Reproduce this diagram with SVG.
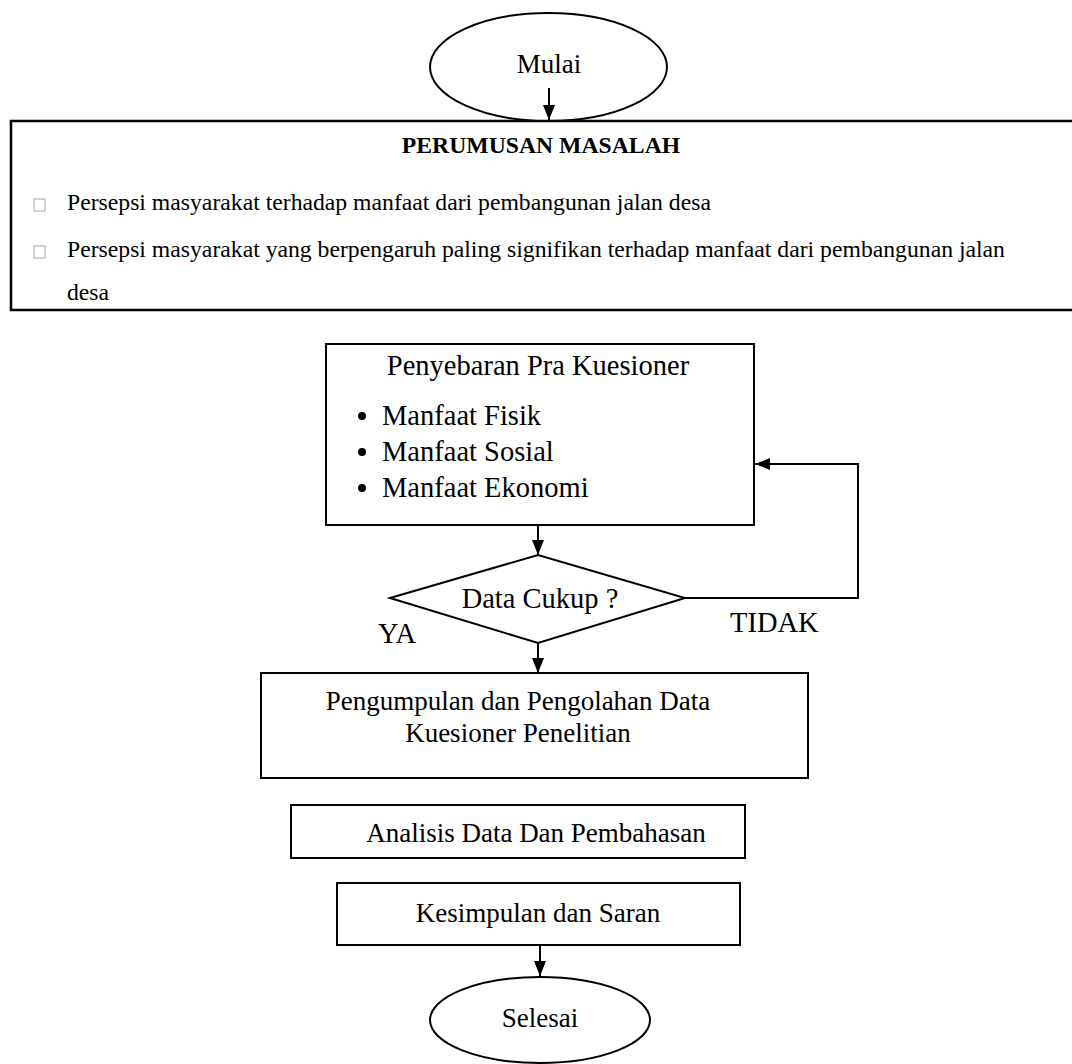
<svg xmlns="http://www.w3.org/2000/svg" width="1072" height="1064" viewBox="0 0 1072 1064">
<style>
.t{font-family:"Liberation Serif","Times New Roman",serif;fill:#000}
.d{font-size:28.5px}
.e{font-size:27px}
.p{font-size:23.7px}
.b{font-weight:bold}
.s{fill:#fff;stroke:#000;stroke-width:2}
.c{fill:none;stroke:#000;stroke-width:2}
.g{fill:none;stroke:#a6a6a6;stroke-width:1}
</style>
<defs>
<marker id="ah" markerUnits="userSpaceOnUse" viewBox="0 0 15 12" markerWidth="15" markerHeight="12" refX="15" refY="6" orient="auto">
<path d="M0,0 L15,6 L0,12 z" fill="#000"/>
</marker>
</defs>
<rect width="1072" height="1064" fill="#fff"/>
<g id="mulai">
<ellipse class="s" cx="548.5" cy="67" rx="118.5" ry="54"/>
<text class="t e" x="549" y="73" text-anchor="middle">Mulai</text>
</g>
<g id="perumusan">
<rect x="11" y="121" width="1070" height="189" fill="#fff" stroke="#000" stroke-width="2.5"/>
<text class="t p b" x="541" y="153" text-anchor="middle">PERUMUSAN MASALAH</text>
<rect class="g" x="34" y="199" width="11" height="12"/>
<text class="t p" x="67" y="210">Persepsi masyarakat terhadap manfaat dari pembangunan jalan desa</text>
<rect class="g" x="34" y="246" width="11" height="12"/>
<text class="t p" x="67" y="257">Persepsi masyarakat yang berpengaruh paling signifikan terhadap manfaat dari pembangunan jalan</text>
<text class="t p" x="67" y="300">desa</text>
</g>
<g id="penyebaran">
<rect class="s" x="326" y="344" width="428" height="181"/>
<text class="t d" x="538" y="375" text-anchor="middle">Penyebaran Pra Kuesioner</text>
<circle cx="362" cy="416" r="4"/>
<text class="t d" x="382" y="425">Manfaat Fisik</text>
<circle cx="362" cy="452" r="4"/>
<text class="t d" x="382" y="461">Manfaat Sosial</text>
<circle cx="362" cy="488" r="4"/>
<text class="t d" x="382" y="497">Manfaat Ekonomi</text>
</g>
<g id="cek">
<polygon class="s" points="390,598 538,555 685,598 538,643"/>
<text class="t d" x="540" y="608" text-anchor="middle">Data Cukup ?</text>
</g>
<g id="pengumpulan">
<rect class="s" x="261" y="673" width="547" height="105"/>
<text class="t e" x="518" y="710" text-anchor="middle">Pengumpulan dan Pengolahan Data</text>
<text class="t e" x="518" y="742" text-anchor="middle">Kuesioner Penelitian</text>
</g>
<g id="analisis">
<rect class="s" x="291" y="805" width="454" height="53"/>
<text class="t e" x="536" y="842" text-anchor="middle">Analisis Data Dan Pembahasan</text>
</g>
<g id="kesimpulan">
<rect class="s" x="337" y="883" width="403" height="62"/>
<text class="t e" x="538" y="922" text-anchor="middle">Kesimpulan dan Saran</text>
</g>
<g id="selesai">
<ellipse class="s" cx="540" cy="1020" rx="110" ry="43"/>
<text class="t e" x="540" y="1027" text-anchor="middle">Selesai</text>
</g>
<g id="connectors">
<line class="c" x1="549" y1="88" x2="549" y2="120" marker-end="url(#ah)"/>
<line class="c" x1="538" y1="525" x2="538" y2="555" marker-end="url(#ah)"/>
<line class="c" x1="538" y1="643" x2="538" y2="673" marker-end="url(#ah)"/>
<polyline class="c" points="685,598 858,598 858,464 755,464" marker-end="url(#ah)"/>
<line class="c" x1="540" y1="945" x2="540" y2="976" marker-end="url(#ah)"/>
<text class="t d" x="378" y="643">YA</text>
<text class="t d" x="730" y="632">TIDAK</text>
</g>
</svg>
